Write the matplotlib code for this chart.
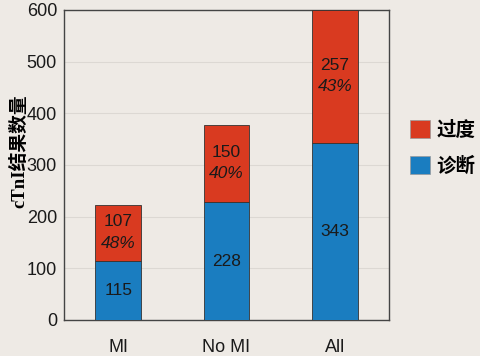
import matplotlib.pyplot as plt
from matplotlib.patches import Patch

categorias = ['MI', 'No MI', 'All']
diagnostico = [115, 228, 343]
excesso = [107, 150, 257]
percentuais = ['48%', '40%', '43%']
nomes_series = ['过度', '诊断']

cor_fundo = '#eeeae5'
cor_vermelho = '#d93a20'
cor_azul = '#1a7dc0'

plt.rcParams['font.family'] = ['Liberation Sans', 'Noto Sans CJK SC']

fig = plt.figure(figsize=(4.81, 3.56), dpi=100, facecolor=cor_fundo)
ax = fig.add_axes([64 / 481, 36 / 356, 325 / 481, 310 / 356], facecolor=cor_fundo)

x = list(range(len(categorias)))
largura = 0.42
ax.bar(x, diagnostico, width=largura, color=cor_azul, edgecolor='#333333', linewidth=0.6, zorder=3)
ax.bar(x, excesso, width=largura, bottom=diagnostico, color=cor_vermelho,
       edgecolor='#333333', linewidth=0.6, zorder=3)

for i in x:
    ax.text(i, diagnostico[i] / 2, str(diagnostico[i]), ha='center', va='center',
            fontsize=12.5, color='#1a1a1a', zorder=4)
    meio = diagnostico[i] + excesso[i] / 2
    ax.text(i, meio + 22, str(excesso[i]), ha='center', va='center',
            fontsize=12.5, color='#1a1a1a', zorder=4)
    ax.text(i, meio - 20, percentuais[i], ha='center', va='center',
            fontsize=12.5, style='italic', color='#1a1a1a', zorder=4)

ax.set_xlim(-0.5, 2.5)
ax.set_ylim(0, 600)
ax.set_yticks(range(0, 601, 100))
ax.set_xticks(x)
ax.set_xticklabels(categorias)
ax.tick_params(axis='both', length=0, labelsize=13, colors='#1a1a1a')
ax.tick_params(axis='x', pad=14)
ax.tick_params(axis='y', pad=5)
ax.grid(axis='y', color='#dcd8d3', linewidth=0.8, zorder=0)
for lado in ax.spines.values():
    lado.set_color('#444444')
    lado.set_linewidth(1.0)

ax.set_ylabel('cTnI结果数量', fontsize=13.5, family=['Liberation Serif', 'Noto Sans CJK SC'],
              fontweight='bold')
ax.yaxis.set_label_coords(-0.11, 0.545)

handles = [Patch(facecolor=cor_vermelho, edgecolor='#999999', linewidth=0.5),
           Patch(facecolor=cor_azul, edgecolor='#999999', linewidth=0.5)]
fig.legend(handles, nomes_series, loc='center left', bbox_to_anchor=(410 / 481, 1 - 148 / 356),
           frameon=False, borderpad=0, borderaxespad=0, handlelength=1.05, handleheight=1.05,
           labelspacing=0.85, handletextpad=0.3,
           prop={'family': ['Noto Sans CJK SC'], 'size': 14, 'weight': 'bold'})

fig.savefig('out.png', dpi=100, facecolor=cor_fundo)
